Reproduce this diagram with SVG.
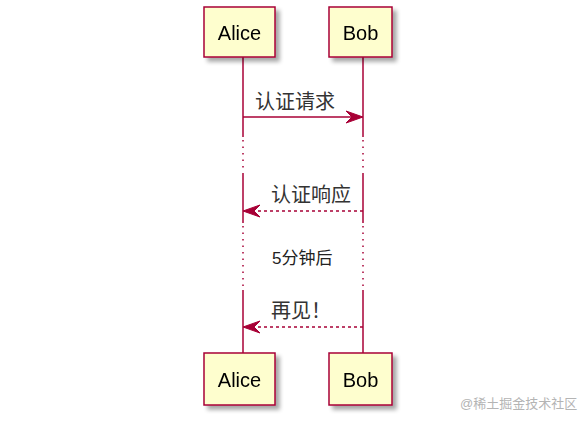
<svg xmlns="http://www.w3.org/2000/svg" width="584" height="422" viewBox="0 0 584 422">
<style>
.box{fill:#FEFECE;stroke:#A80036;stroke-width:1.5}
.name{font-family:"Liberation Sans",Arial,sans-serif;font-size:20px;fill:#000;text-anchor:middle}
.life{stroke:#A80036;stroke-width:1.5;fill:none}
.dot{stroke:#A80036;stroke-width:1.5;fill:none;stroke-dasharray:1.5,5}
.msg{stroke:#A80036;stroke-width:1.3;fill:none}
.dash{stroke-dasharray:3,3}
.lbl{font-family:"Liberation Sans","Noto Sans CJK SC",sans-serif;font-size:20px;fill:#333}
.head{fill:#A80036;stroke:#A80036;stroke-width:1}
</style>
<defs>
<filter id="sh" x="-20%" y="-20%" width="150%" height="150%">
<feGaussianBlur in="SourceAlpha" stdDeviation="2"/>
<feOffset dx="4" dy="4" result="b"/>
<feComponentTransfer><feFuncA type="linear" slope="0.35"/></feComponentTransfer>
<feMerge><feMergeNode/><feMergeNode in="SourceGraphic"/></feMerge>
</filter>
</defs>
<rect width="584" height="422" fill="#fff"/>
<g id="lifelines">
<line class="life" x1="243" y1="57" x2="243" y2="137"/>
<line class="dot" x1="243" y1="140" x2="243" y2="172"/>
<line class="life" x1="243" y1="173" x2="243" y2="223"/>
<line class="dot" x1="243" y1="226" x2="243" y2="288"/>
<line class="life" x1="243" y1="290" x2="243" y2="353"/>
<line class="life" x1="363" y1="57" x2="363" y2="137"/>
<line class="dot" x1="363" y1="140" x2="363" y2="172"/>
<line class="life" x1="363" y1="173" x2="363" y2="223"/>
<line class="dot" x1="363" y1="226" x2="363" y2="288"/>
<line class="life" x1="363" y1="290" x2="363" y2="353"/>
</g>
<g id="alice-top" filter="url(#sh)"><rect class="box" x="204" y="7" width="71" height="50"/><text class="name" x="239.5" y="40">Alice</text></g>
<g id="bob-top" filter="url(#sh)"><rect class="box" x="329" y="7" width="63" height="50"/><text class="name" x="360.5" y="40">Bob</text></g>
<g id="alice-bottom" filter="url(#sh)"><rect class="box" x="204" y="353" width="71" height="52"/><text class="name" x="239.5" y="387">Alice</text></g>
<g id="bob-bottom" filter="url(#sh)"><rect class="box" x="329" y="353" width="63" height="52"/><text class="name" x="360.5" y="387">Bob</text></g>
<g id="connectors">
<line class="msg" x1="243" y1="117" x2="360" y2="117"/>
<polygon class="head" points="363,117 346,111 352,117 346,123"/>
<text class="lbl" x="255" y="109">认证请求</text>
<line class="msg dash" x1="246" y1="211" x2="363" y2="211"/>
<polygon class="head" points="243,211 260,205 254,211 260,217"/>
<text class="lbl" x="271" y="202">认证响应</text>
<text class="lbl" x="272" y="264" style="font-size:17px;fill:#222">5分钟后</text>
<line class="msg dash" x1="246" y1="327" x2="363" y2="327"/>
<polygon class="head" points="243,327 260,321 254,327 260,333"/>
<text class="lbl" x="271" y="318">再见！</text>
</g>
<text x="460" y="408" style="font-family:'Liberation Sans','Noto Sans CJK SC',sans-serif;font-size:13px;fill:#b4b4b4">@稀土掘金技术社区</text>
</svg>
